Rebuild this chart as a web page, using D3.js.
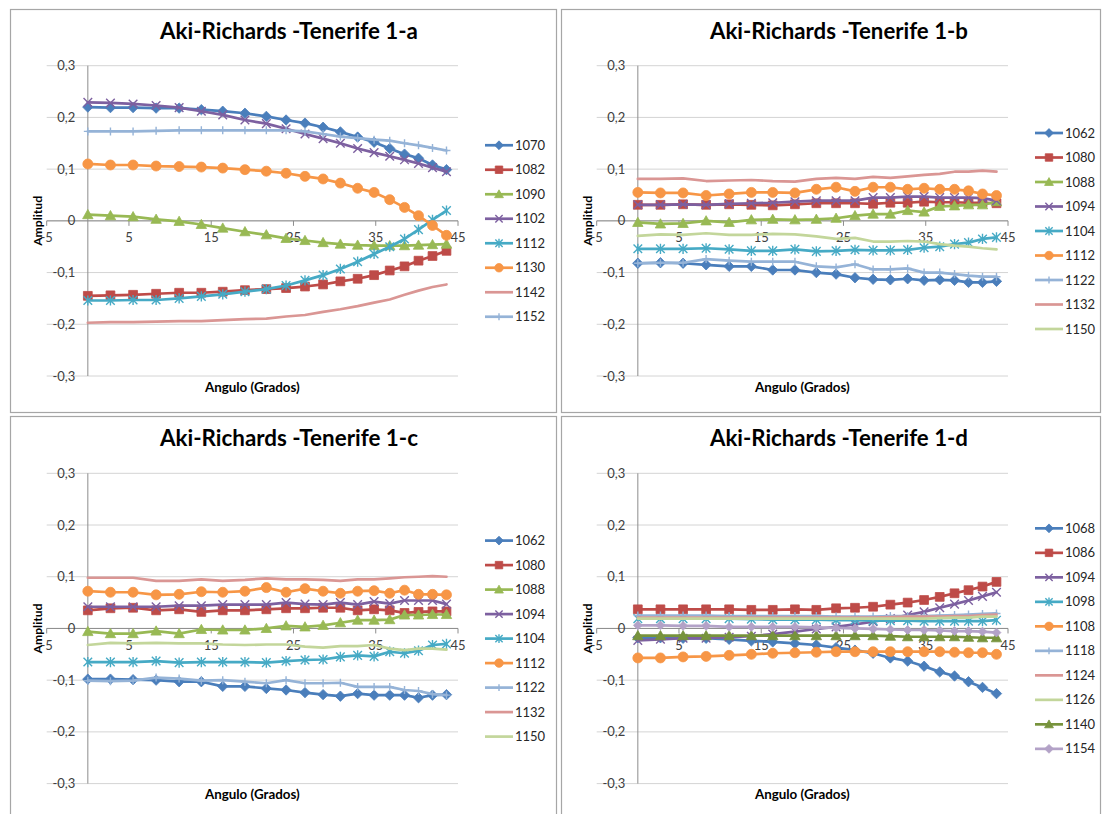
<!DOCTYPE html>
<html><head><meta charset="utf-8">
<script src="https://cdn.jsdelivr.net/npm/d3@7"></script>
<style>body{margin:0;background:#fff}svg{display:block}</style>
</head><body>
<script>
// ---------- DATA ----------
const angles = [0, 2.75, 5.5, 8.3, 11.1, 13.8, 16.4, 19.1, 21.7, 24.1, 26.4, 28.6, 30.7, 32.8, 34.8, 36.7, 38.5, 40.2, 41.9, 43.6];
const xTicks = [-5, 5, 15, 25, 35, 45];
const yTicks = [-0.3, -0.2, -0.1, 0, 0.1, 0.2, 0.3];
const yTickLabels = ["-0,3", "-0,2", "-0,1", "0", "0,1", "0,2", "0,3"];
const xAxisTitle = "Angulo (Grados)";
const yAxisTitle = "Amplitud";

// Panel 1-a
const titleA = "Aki-Richards -Tenerife 1-a";
const namesA = ["1070", "1082", "1090", "1102", "1112", "1130", "1142", "1152"];
const s1070 = [0.220,0.219,0.219,0.218,0.218,0.215,0.212,0.208,0.202,0.195,0.189,0.181,0.172,0.162,0.152,0.140,0.129,0.121,0.108,0.099];
const s1082 = [-0.145,-0.144,-0.143,-0.141,-0.139,-0.139,-0.137,-0.134,-0.132,-0.130,-0.127,-0.123,-0.117,-0.112,-0.105,-0.096,-0.088,-0.077,-0.068,-0.058];
const s1090 = [0.012,0.010,0.008,0.003,-0.001,-0.007,-0.014,-0.021,-0.027,-0.034,-0.038,-0.042,-0.045,-0.047,-0.048,-0.048,-0.048,-0.047,-0.046,-0.045];
const s1102 = [0.229,0.228,0.226,0.223,0.219,0.212,0.205,0.195,0.188,0.178,0.168,0.159,0.150,0.140,0.132,0.125,0.118,0.111,0.103,0.095];
const s1112 = [-0.154,-0.154,-0.153,-0.153,-0.150,-0.146,-0.142,-0.137,-0.132,-0.125,-0.115,-0.105,-0.093,-0.079,-0.064,-0.050,-0.035,-0.017,0.002,0.020];
const s1130 = [0.110,0.108,0.108,0.106,0.105,0.104,0.102,0.099,0.096,0.092,0.086,0.081,0.073,0.063,0.055,0.041,0.026,0.010,-0.009,-0.028];
const s1142 = [-0.197,-0.196,-0.196,-0.195,-0.194,-0.194,-0.192,-0.190,-0.189,-0.185,-0.182,-0.176,-0.171,-0.165,-0.158,-0.152,-0.143,-0.135,-0.128,-0.123];
const s1152 = [0.173,0.173,0.173,0.174,0.175,0.175,0.175,0.175,0.175,0.175,0.173,0.168,0.163,0.160,0.157,0.155,0.150,0.146,0.141,0.136];
const valuesA = [s1070, s1082, s1090, s1102, s1112, s1130, s1142, s1152];

// Panel 1-b
const titleB = "Aki-Richards -Tenerife 1-b";
const namesB = ["1062", "1080", "1088", "1094", "1104", "1112", "1122", "1132", "1150"];
const b1062 = [-0.082,-0.081,-0.082,-0.085,-0.088,-0.088,-0.095,-0.095,-0.100,-0.103,-0.110,-0.113,-0.114,-0.112,-0.115,-0.114,-0.115,-0.119,-0.119,-0.117];
const b1080 = [0.031,0.031,0.032,0.031,0.032,0.031,0.030,0.032,0.034,0.034,0.034,0.033,0.035,0.035,0.037,0.036,0.036,0.035,0.035,0.034];
const b1088 = [-0.003,-0.006,-0.005,0.000,-0.003,0.002,0.003,0.002,0.003,0.005,0.010,0.013,0.013,0.020,0.017,0.028,0.029,0.031,0.031,0.037];
const b1094 = [0.031,0.031,0.032,0.031,0.033,0.034,0.035,0.037,0.039,0.039,0.039,0.045,0.045,0.047,0.047,0.045,0.045,0.045,0.044,0.039];
const b1104 = [-0.054,-0.054,-0.054,-0.053,-0.055,-0.058,-0.058,-0.055,-0.059,-0.058,-0.056,-0.057,-0.057,-0.056,-0.052,-0.050,-0.045,-0.042,-0.035,-0.032];
const b1112 = [0.055,0.054,0.054,0.049,0.052,0.055,0.055,0.054,0.061,0.065,0.057,0.065,0.065,0.061,0.063,0.061,0.061,0.058,0.052,0.049];
const b1122 = [-0.082,-0.081,-0.081,-0.074,-0.077,-0.079,-0.079,-0.079,-0.088,-0.090,-0.084,-0.094,-0.094,-0.092,-0.100,-0.100,-0.103,-0.106,-0.108,-0.108];
const b1132 = [0.081,0.081,0.082,0.077,0.078,0.079,0.077,0.076,0.081,0.083,0.081,0.085,0.083,0.086,0.089,0.091,0.095,0.095,0.097,0.095];
const b1150 = [-0.029,-0.026,-0.027,-0.024,-0.027,-0.027,-0.025,-0.026,-0.030,-0.035,-0.033,-0.040,-0.040,-0.039,-0.040,-0.045,-0.048,-0.050,-0.053,-0.055];
const valuesB = [b1062, b1080, b1088, b1094, b1104, b1112, b1122, b1132, b1150];

// Panel 1-c
const titleC = "Aki-Richards -Tenerife 1-c";
const namesC = ["1062", "1080", "1088", "1094", "1104", "1112", "1122", "1132", "1150"];
const c1062 = [-0.098,-0.098,-0.099,-0.100,-0.103,-0.103,-0.112,-0.112,-0.116,-0.119,-0.124,-0.128,-0.131,-0.126,-0.129,-0.129,-0.129,-0.134,-0.129,-0.128];
const c1080 = [0.035,0.039,0.040,0.035,0.037,0.032,0.035,0.035,0.037,0.039,0.039,0.040,0.040,0.035,0.037,0.035,0.030,0.032,0.033,0.033];
const c1088 = [-0.006,-0.010,-0.010,-0.005,-0.010,-0.002,-0.003,-0.003,0.000,0.005,0.003,0.006,0.011,0.016,0.016,0.017,0.026,0.026,0.027,0.027];
const c1094 = [0.042,0.042,0.042,0.042,0.044,0.044,0.046,0.046,0.046,0.050,0.047,0.046,0.050,0.046,0.052,0.048,0.054,0.054,0.054,0.047];
const c1104 = [-0.065,-0.065,-0.065,-0.063,-0.066,-0.065,-0.065,-0.065,-0.066,-0.063,-0.061,-0.060,-0.055,-0.052,-0.054,-0.045,-0.048,-0.043,-0.032,-0.030];
const c1112 = [0.072,0.070,0.070,0.065,0.066,0.071,0.070,0.072,0.079,0.070,0.077,0.072,0.068,0.072,0.073,0.068,0.074,0.066,0.066,0.065];
const c1122 = [-0.101,-0.102,-0.101,-0.095,-0.097,-0.101,-0.100,-0.103,-0.106,-0.100,-0.106,-0.106,-0.105,-0.113,-0.113,-0.113,-0.119,-0.121,-0.127,-0.129];
const c1132 = [0.098,0.098,0.098,0.092,0.092,0.095,0.092,0.094,0.097,0.095,0.095,0.094,0.092,0.095,0.095,0.097,0.099,0.100,0.101,0.100];
const c1150 = [-0.032,-0.028,-0.029,-0.028,-0.029,-0.029,-0.031,-0.032,-0.031,-0.031,-0.035,-0.037,-0.034,-0.034,-0.032,-0.039,-0.042,-0.039,-0.039,-0.041];
const valuesC = [c1062, c1080, c1088, c1094, c1104, c1112, c1122, c1132, c1150];

// Panel 1-d
const titleD = "Aki-Richards -Tenerife 1-d";
const namesD = ["1068", "1086", "1094", "1098", "1108", "1118", "1124", "1126", "1140", "1154"];
const d1068 = [-0.018,-0.018,-0.019,-0.019,-0.021,-0.024,-0.026,-0.029,-0.032,-0.037,-0.042,-0.048,-0.057,-0.063,-0.073,-0.084,-0.092,-0.103,-0.114,-0.126];
const d1086 = [0.037,0.037,0.037,0.037,0.037,0.036,0.036,0.037,0.036,0.039,0.040,0.042,0.046,0.050,0.055,0.061,0.068,0.074,0.081,0.090];
const d1094 = [-0.023,-0.021,-0.019,-0.019,-0.017,-0.015,-0.011,-0.006,-0.001,0.003,0.008,0.013,0.019,0.026,0.032,0.040,0.047,0.054,0.062,0.070];
const d1098 = [0.019,0.019,0.019,0.019,0.019,0.018,0.017,0.017,0.017,0.016,0.016,0.015,0.015,0.015,0.014,0.014,0.014,0.014,0.014,0.016];
const d1108 = [-0.057,-0.057,-0.055,-0.054,-0.052,-0.050,-0.048,-0.047,-0.046,-0.045,-0.045,-0.045,-0.045,-0.045,-0.045,-0.045,-0.046,-0.047,-0.047,-0.050];
const d1118 = [0.025,0.025,0.025,0.025,0.024,0.024,0.024,0.024,0.024,0.023,0.023,0.023,0.024,0.024,0.024,0.025,0.026,0.027,0.028,0.029];
const d1124 = [0.021,0.021,0.021,0.021,0.021,0.021,0.021,0.021,0.021,0.021,0.021,0.021,0.022,0.023,0.023,0.023,0.024,0.024,0.026,0.027];
const d1126 = [0.019,0.019,0.019,0.019,0.019,0.019,0.019,0.019,0.019,0.019,0.019,0.019,0.019,0.019,0.019,0.020,0.021,0.021,0.023,0.023];
const d1140 = [-0.014,-0.014,-0.014,-0.014,-0.014,-0.014,-0.014,-0.014,-0.014,-0.014,-0.014,-0.014,-0.015,-0.016,-0.016,-0.016,-0.016,-0.017,-0.018,-0.018];
const d1154 = [0.006,0.006,0.005,0.005,0.003,0.003,0.003,0.003,0.002,0.001,0.000,-0.001,-0.002,-0.003,-0.003,-0.004,-0.005,-0.005,-0.006,-0.008];
const valuesD = [d1068, d1086, d1094, d1098, d1108, d1118, d1124, d1126, d1140, d1154];

// ---------- STYLES ----------
const C = {blue:"#4A7EBB", red:"#BE4B48", green:"#98B954", purple:"#7D60A0", teal:"#46AAC5",
           orange:"#F79646", lblue:"#95B3D7", pink:"#DA9694", lgreen:"#C3D69B", dgreen:"#77933C", lav:"#B3A2C7"};
const colorsA = [C.blue, C.red, C.green, C.purple, C.teal, C.orange, C.pink, C.lblue];
const markersA = ["diamond","square","triangle","x","star","circle","none","plus"];
const colorsBC = [C.blue, C.red, C.green, C.purple, C.teal, C.orange, C.lblue, C.pink, C.lgreen];
const markersBC = ["diamond","square","triangle","x","star","circle","plus","none","none"];
const colorsD = [C.blue, C.red, C.purple, C.teal, C.orange, C.lblue, C.pink, C.lgreen, C.dgreen, C.lav];
const markersD = ["diamond","square","x","star","circle","plus","none","none","triangle","diamond"];

const W = 1102, H = 814;
const FONT = "Lato, 'Open Sans', sans-serif";
const svg = d3.select("body").append("svg").attr("width", W).attr("height", H);

const panels = [
  {title:titleA, names:namesA, values:valuesA, colors:colorsA, markers:markersA, col:0, row:0},
  {title:titleB, names:namesB, values:valuesB, colors:colorsBC, markers:markersBC, col:1, row:0},
  {title:titleC, names:namesC, values:valuesC, colors:colorsBC, markers:markersBC, col:0, row:1},
  {title:titleD, names:namesD, values:valuesD, colors:colorsD, markers:markersD, col:1, row:1}
];
const colLeft = [10, 560];
const rowTop = [0, 407.6];
const frames = [[10, 9, 546, 403], [561, 9, 539, 403], [10, 416, 546, 404], [561, 416, 539, 404]];

function markerPath(type, small) {
  const f = small ? 0.85 : 1;
  const r = 5.2*f, s = 4.4*f, t = 5.2*f, c = 5.0*f, k = 4.3*f, pl = 4.0*f;
  switch (type) {
    case "diamond": return `M0,${-r}L${r},0L0,${r}L${-r},0Z`;
    case "square": return `M${-s},${-s}H${s}V${s}H${-s}Z`;
    case "triangle": return `M0,${-t}L${t},${t*0.78}L${-t},${t*0.78}Z`;
    case "circle": return d3.symbol(d3.symbolCircle, Math.PI*c*c)();
    case "x": return `M${-k},${-k}L${k},${k}M${-k},${k}L${k},${-k}`;
    case "star": return `M${-k},${-k}L${k},${k}M${-k},${k}L${k},${-k}M0,${-k-0.8}V${k+0.8}`;
    case "plus": return `M${-pl},0H${pl}M0,${-pl}V${pl}`;
  }
  return null;
}
const filled = t => ["diamond","square","triangle","circle"].includes(t);

function fitText(sel, target) {
  const w = sel.node().getComputedTextLength();
  const fs = parseFloat(sel.attr("font-size"));
  sel.attr("font-size", (fs * target / w).toFixed(2));
}

frames.forEach(f => {
  svg.append("rect").attr("x", f[0] + 0.5).attr("y", f[1] + 0.5).attr("width", f[2]).attr("height", f[3])
    .attr("fill", "#fff").attr("stroke", "#a6a6a6").attr("stroke-width", 1.2);
});

panels.forEach(p => {
  const cl = colLeft[p.col], rt = rowTop[p.row];
  const x = d3.scaleLinear().domain([-5, 45]).range([cl + 36.7, cl + 448]);
  const y = d3.scaleLinear().domain([-0.3, 0.3]).range([rt + 376, rt + 65.7]);
  const g = svg.append("g");

  // gridlines
  g.append("g").selectAll("line").data(yTicks).join("line")
    .attr("x1", x(-5)).attr("x2", x(45)).attr("y1", d => y(d)).attr("y2", d => y(d))
    .attr("stroke", "#d4d4d4").attr("stroke-width", 1);

  // y-axis line at x = 0
  g.append("line").attr("x1", x(0)).attr("x2", x(0)).attr("y1", y(0.3)).attr("y2", y(-0.3))
    .attr("stroke", "#8c8c8c").attr("stroke-width", 1);
  // x-axis line at y = 0
  g.append("line").attr("x1", x(-5)).attr("x2", x(45)).attr("y1", y(0)).attr("y2", y(0))
    .attr("stroke", "#8c8c8c").attr("stroke-width", 1);
  g.append("g").selectAll("line").data(xTicks).join("line")
    .attr("x1", d => x(d)).attr("x2", d => x(d)).attr("y1", y(0)).attr("y2", y(0) + 5)
    .attr("stroke", "#8c8c8c").attr("stroke-width", 1);

  // y tick labels
  g.append("g").selectAll("text").data(yTicks).join("text")
    .attr("x", x(0) - 12.5).attr("y", d => y(d)).attr("dy", "0.35em")
    .attr("text-anchor", "end").attr("font-family", FONT).attr("font-size", 13).attr("fill", "#404040")
    .text((d, i) => yTickLabels[i]);
  // x tick labels
  g.append("g").selectAll("text").data(xTicks).join("text")
    .attr("x", d => x(d)).attr("y", y(0) + 17).attr("dy", "0.35em")
    .attr("text-anchor", "middle").attr("font-family", FONT).attr("font-size", 13).attr("fill", "#404040")
    .text(d => d);

  // axis titles
  const xt = g.append("text").attr("x", (x(-5) + x(45)) / 2).attr("y", rt + 391.5)
    .attr("text-anchor", "middle").attr("font-family", FONT).attr("font-weight", "bold")
    .attr("font-size", 13).attr("fill", "#000").text(xAxisTitle);
  fitText(xt, 95);
  const yt = g.append("text").attr("transform", `translate(${cl + 27.5},${(y(0.3) + y(-0.3)) / 2}) rotate(-90)`)
    .attr("dy", "0.35em").attr("text-anchor", "middle").attr("font-family", FONT).attr("font-weight", "bold")
    .attr("font-size", 13).attr("fill", "#000").text(yAxisTitle);
  fitText(yt, 50);

  // title
  const tt = g.append("text").attr("x", cl + 279).attr("y", rt + 38.5)
    .attr("text-anchor", "middle").attr("font-family", FONT).attr("font-weight", "bold")
    .attr("font-size", 20).attr("fill", "#000").text(p.title);
  fitText(tt, 258);

  // series
  const line = d3.line().x((d, i) => x(angles[i])).y(d => y(d));
  p.values.forEach((vals, si) => {
    const col = p.colors[si], mk = p.markers[si];
    const small = (p === panels[3] && si === 9);
    const sg = g.append("g");
    sg.append("path").attr("d", line(vals)).attr("fill", "none").attr("stroke", col)
      .attr("stroke-width", 2.7).attr("stroke-linejoin", "round").attr("stroke-linecap", "round");
    if (mk !== "none") {
      sg.selectAll("path.m").data(vals).join("path").attr("class", "m")
        .attr("transform", (d, i) => `translate(${x(angles[i])},${y(d)})`)
        .attr("d", markerPath(mk, small))
        .attr("fill", filled(mk) ? col : "none")
        .attr("stroke", col).attr("stroke-width", filled(mk) ? 0.8 : 1.4);
    }
  });

  // legend
  const n = p.names.length, step = 24.5;
  const y0 = rt + 231 - (n - 1) / 2 * step;
  const lg = g.append("g");
  p.names.forEach((name, i) => {
    const yy = y0 + i * step;
    const col = p.colors[i], mk = p.markers[i];
    lg.append("line").attr("x1", cl + 475).attr("x2", cl + 503).attr("y1", yy).attr("y2", yy)
      .attr("stroke", col).attr("stroke-width", 2.7);
    if (mk !== "none") {
      lg.append("path").attr("transform", `translate(${cl + 489},${yy})`).attr("d", markerPath(mk, true))
        .attr("fill", filled(mk) ? col : "none").attr("stroke", col).attr("stroke-width", filled(mk) ? 0.8 : 1.4);
    }
    lg.append("text").attr("x", cl + 505).attr("y", yy).attr("dy", "0.35em")
      .attr("font-family", FONT).attr("font-size", 13).attr("fill", "#262626").text(name);
  });
});
</script>
</body></html>
